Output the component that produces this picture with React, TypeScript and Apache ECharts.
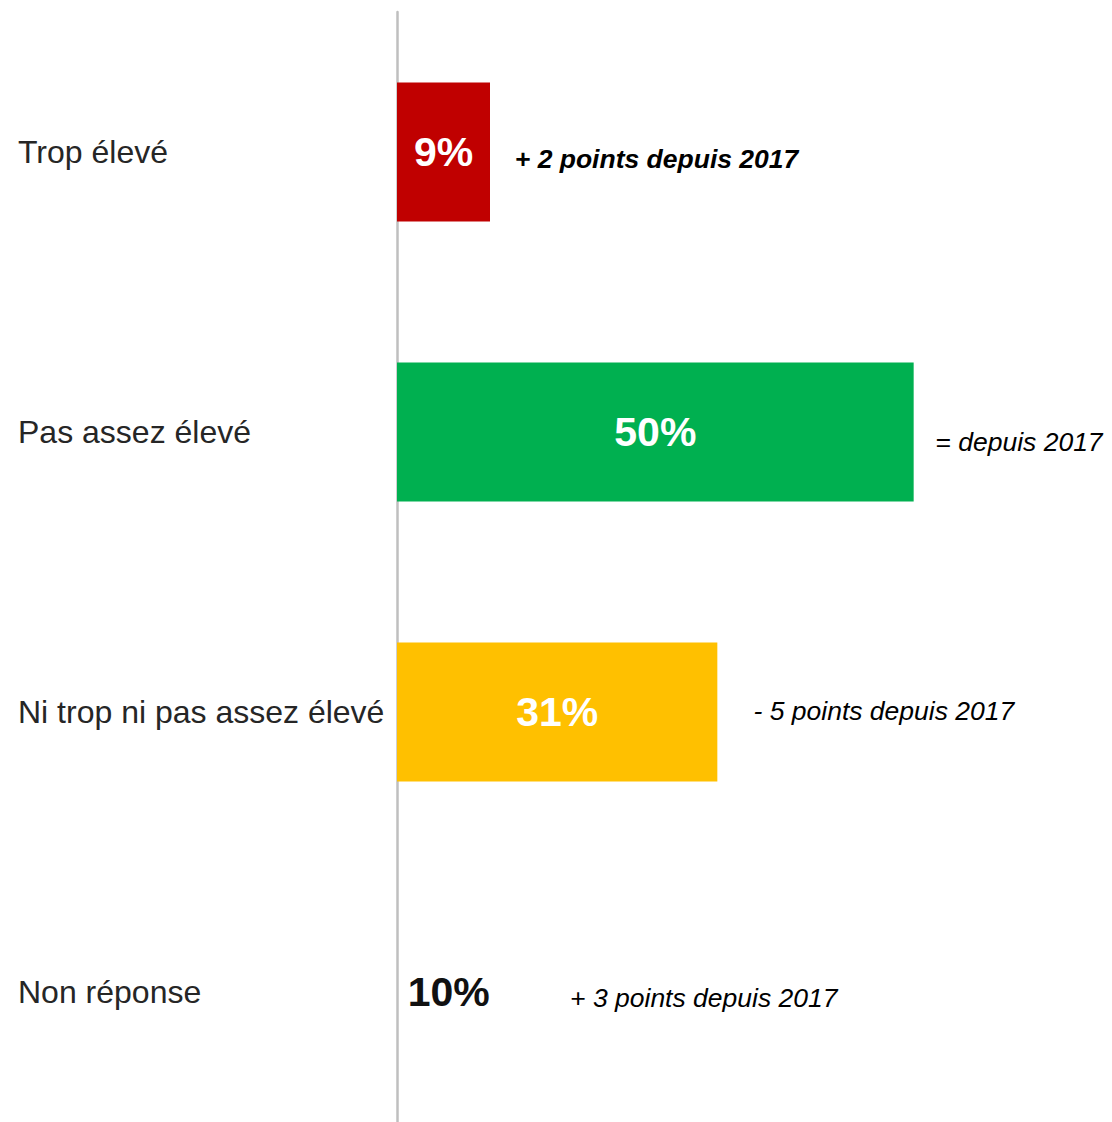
import React, { useEffect, useRef } from "react";
import * as echarts from "echarts";

const categories = ["Trop élevé", "Pas assez élevé", "Ni trop ni pas assez élevé", "Non réponse"];
const values = [9, 50, 31, 10];
const barColors = ["#C00000", "#00B050", "#FFC000", "rgba(255,255,255,0)"];
const labelColors = ["#ffffff", "#ffffff", "#ffffff", "#111111"];
const annotations = ["+ 2 points depuis 2017", "= depuis 2017", "- 5 points depuis 2017", "+ 3 points depuis 2017"];
const annotationX = [11.4, 52.1, 34.5, 16.75];
const annotationDy = [7, 10, -1, 6];
const annotationBold = [true, false, false, false];

export default function App() {
  const ref = useRef<HTMLDivElement>(null);
  useEffect(() => {
    const chart = echarts.init(ref.current!, null, { renderer: "svg" });
    chart.setOption({
      animation: false,
      backgroundColor: "#ffffff",
      grid: { left: 397, right: 95, top: 12, bottom: 0, containLabel: false },
      xAxis: {
        type: "value",
        min: 0,
        max: 60,
        show: false,
      },
      yAxis: {
        type: "category",
        data: categories,
        inverse: true,
        axisLine: { show: true, lineStyle: { color: "#bfbfbf", width: 2.5 } },
        axisTick: { show: false },
        splitLine: { show: false },
        axisLabel: {
          align: "left",
          margin: 379,
          fontFamily: "Liberation Sans, Arial, sans-serif",
          fontSize: 32,
          color: "#262626",
        },
      },
      series: [
        {
          type: "bar",
          barWidth: 139,
          data: values.map((v, i) => ({
            value: v,
            itemStyle: { color: barColors[i] },
            label: { color: labelColors[i] },
          })),
          label: {
            show: true,
            position: "inside",
            formatter: "{c}%",
            fontFamily: "Liberation Sans, Arial, sans-serif",
            fontWeight: "bold",
            fontSize: 41,
          },
        },
        {
          type: "scatter",
          symbolSize: 0,
          silent: true,
          z: 5,
          itemStyle: { opacity: 1 },
          data: annotationX.map((x, i) => ({
            value: [x, categories[i]],
            label: {
              formatter: annotations[i],
              offset: [0, annotationDy[i]],
              fontWeight: annotationBold[i] ? "bold" : "normal",
            },
          })),
          label: {
            show: true,
            position: "right",
            distance: 0,
            fontFamily: "Liberation Sans, Arial, sans-serif",
            fontStyle: "italic",
            fontSize: 26.5,
            color: "#000000",
          },
        },
      ],
    });
    return () => chart.dispose();
  }, []);
  return (
    <div style={{ position: "absolute", left: 0, top: 0, width: 1112, height: 1122, overflow: "hidden" }}>
      <div ref={ref} style={{ width: 1112, height: 1132 }} />
    </div>
  );
}
